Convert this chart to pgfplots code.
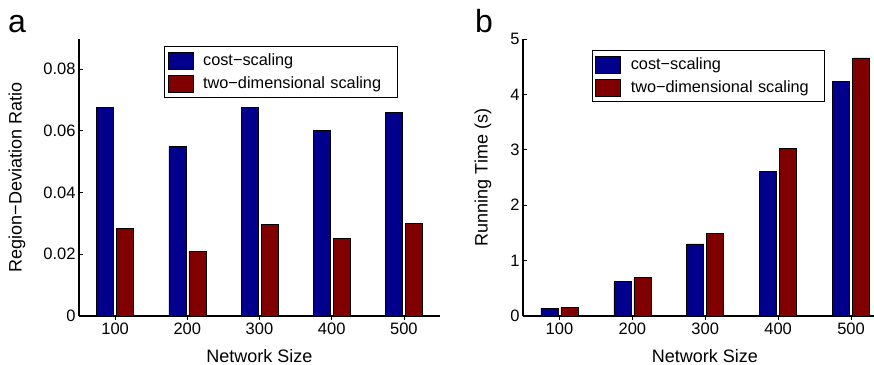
\documentclass[border=0pt]{standalone}
\usepackage{fontspec}
\setmainfont{Liberation Sans}
\usepackage{pgfplots}
\pgfplotsset{compat=1.18}
\definecolor{cblue}{RGB}{0,0,140}
\definecolor{cred}{RGB}{128,0,0}

\pgfplotsset{
 common/.style={
  scale only axis, anchor=south west,
  height=277bp,
  axis x line=bottom, axis y line=left,
  axis line style={-, line width=1.2bp},
  tick align=inside, major tick length=3.5bp,
  tick style={line width=0.8bp, black},
  ymin=0,
  xtick={0,1,2,3,4}, xticklabels={100,200,300,400,500},
  ticklabel style={font=\fontsize{16.5bp}{19bp}\selectfont},
  label style={font=\fontsize{18bp}{21bp}\selectfont},
  /pgf/number format/assume math mode=true,
  xlabel={Network Size},
  ybar, bar width=17bp,
  legend style={draw=black, line width=1bp, font=\fontsize{16.3bp}{19bp}\selectfont, legend cell align=left, anchor=north west, inner xsep=3bp, inner ysep=5.5bp, row sep=5bp,
    nodes={inner xsep=10bp, text width=181bp, align=left}},
  legend image code/.code={\draw[#1, line width=0.6bp] (0bp,-8.5bp) rectangle (25bp,8.5bp);},
 }
}

\begin{document}
\begin{tikzpicture}
\useasboundingbox (0,0) rectangle (874bp,365bp);

\begin{axis}[common,
  at={(79bp,49bp)}, width=361bp,
  xmin=-0.5, xmax=4.5, ymax=0.0897,
  ytick={0,0.02,0.04,0.06,0.08}, yticklabels={0,0.02,0.04,0.06,0.08},
  scaled y ticks=false,
  ylabel={Region−Deviation Ratio},
  ylabel style={at={(axis description cs:-0.1717,0.5)}, anchor=center},
  xlabel style={at={(axis description cs:0.5,0)}, anchor=base, yshift=-46bp},
  legend style={at={(axis description cs:0.2355,0.9747)}},
]
\addplot[fill=cblue, draw=black, line width=0.6bp, bar shift=-10bp] coordinates {(0,0.0675) (1,0.0550) (2,0.0676) (3,0.0600) (4,0.0659)};
\addplot[fill=cred, draw=black, line width=0.6bp, bar shift=10bp] coordinates {(0,0.0283) (1,0.0210) (2,0.0297) (3,0.0250) (4,0.0300)};
\legend{cost−scaling, two−dimensional scaling}
\end{axis}

\begin{axis}[common,
  at={(523bp,49bp)}, width=351bp,
  xmin=-0.5, xmax=4.315, ymax=5,
  ytick={0,1,2,3,4,5},
  ylabel={Running Time (s)},
  ylabel style={at={(axis description cs:-0.114,0.5)}, anchor=center},
  xlabel style={at={(axis description cs:0.5185,0)}, anchor=base, yshift=-46bp},
  legend style={at={(axis description cs:0.1957,0.9603)}},
]
\addplot[fill=cblue, draw=black, line width=0.6bp, bar shift=-10bp] coordinates {(0,0.14) (1,0.62) (2,1.30) (3,2.605) (4,4.236)};
\addplot[fill=cred, draw=black, line width=0.6bp, bar shift=10bp] coordinates {(0,0.155) (1,0.69) (2,1.486) (3,3.03) (4,4.657)};
\legend{cost−scaling, two−dimensional scaling}
\end{axis}

\node[anchor=base west, font=\fontsize{32bp}{36bp}\selectfont, inner sep=0] at (8bp,332bp) {a};
\node[anchor=base west, font=\fontsize{32bp}{36bp}\selectfont, inner sep=0] at (475bp,332bp) {b};
\end{tikzpicture}
\end{document}
